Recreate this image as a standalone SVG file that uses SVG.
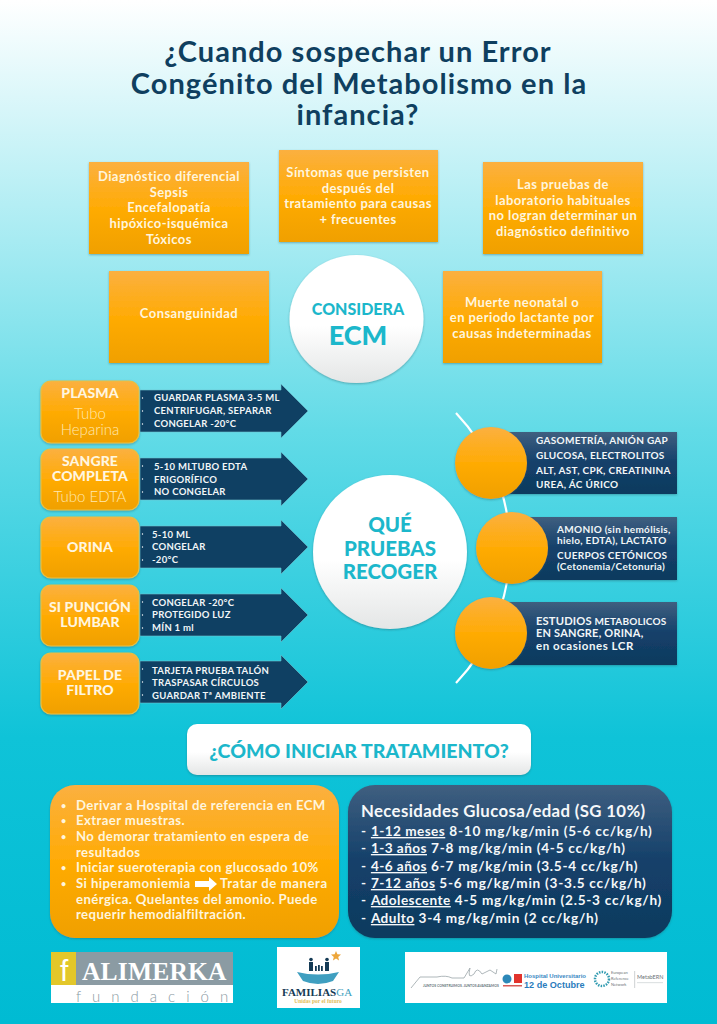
<svg xmlns="http://www.w3.org/2000/svg" width="717" height="1024" viewBox="0 0 717 1024">
<defs>
<linearGradient id="bg" x1="0" y1="0" x2="0" y2="1"><stop offset="0" stop-color="#ffffff"/><stop offset="0.2" stop-color="#b4eef4"/><stop offset="0.42" stop-color="#62dbe7"/><stop offset="0.72" stop-color="#0fc3d8"/><stop offset="1" stop-color="#00bbd3"/></linearGradient>
<linearGradient id="or" x1="0" y1="0" x2="0" y2="1"><stop offset="0" stop-color="#fbb040"/><stop offset="0.5" stop-color="#ffab05"/><stop offset="1" stop-color="#f0a000"/></linearGradient>
<linearGradient id="dk" x1="0" y1="0" x2="0" y2="1"><stop offset="0" stop-color="#3f5f80"/><stop offset="0.5" stop-color="#14406a"/><stop offset="1" stop-color="#0e3a5e"/></linearGradient>
<linearGradient id="wh" x1="0" y1="0" x2="0" y2="1"><stop offset="0" stop-color="#ffffff"/><stop offset="0.55" stop-color="#ffffff"/><stop offset="1" stop-color="#e4e6e6"/></linearGradient>
<filter id="sh" x="-10%" y="-10%" width="120%" height="125%"><feDropShadow dx="0" dy="1" stdDeviation="1.2" flood-color="#20606a" flood-opacity="0.45"/></filter>
<symbol id="arrow" overflow="visible"><path d="M140 -21H281V-27L308 0L281 27V21H140Z" fill="#0f4063" stroke="#6fc4d0" stroke-width="0.6"/></symbol>
</defs>
<style>
text{font-family:"Lato","Liberation Sans",sans-serif}
.t{font-size:29px;font-weight:700;fill:#0f3f5f;text-anchor:middle;letter-spacing:1.05px}
.b{font-size:13px;font-weight:700;fill:#fff5dd;text-anchor:middle;letter-spacing:.42px}
.l{font-size:14px;font-weight:900;fill:#fff6e0;text-anchor:middle;letter-spacing:.1px}
.lt{font-size:15px;font-weight:300;fill:#ffe8b0;text-anchor:middle}
.a{font-size:9.5px;font-weight:700;fill:#f2f6f8;letter-spacing:.3px}
.r{font-size:10px;font-weight:700;fill:#f2f6f8;letter-spacing:.3px}
.c{font-weight:900;fill:#1cb7cb;text-anchor:middle}
.p{font-size:13.2px;font-weight:700;fill:#fff5dd;letter-spacing:.38px}
.d{font-size:9px;font-weight:700;fill:#fff5dd}
.g{font-size:13.6px;font-weight:700;fill:#f5f8fa;letter-spacing:.75px}
.u{text-decoration:underline;letter-spacing:.45px}
.box{fill:url(#or);filter:url(#sh)}
.lb{fill:url(#or);stroke:#e8c040;stroke-width:1.2;filter:url(#sh)}
.dot{fill:#ffffff}
</style>
<rect id="background" width="717" height="1024" fill="url(#bg)"/>
<g id="title">
<text class="t" x="358" y="62">¿Cuando sospechar un Error</text>
<text class="t" x="359" y="94">Congénito del Metabolismo en la</text>
<text class="t" x="358" y="125">infancia?</text>
</g>
<g id="connectors">
<path d="M456 413A196 196 0 0 1 456 683" fill="none" stroke="#ffffff" stroke-width="2.2"/>
</g>
<g id="n-diagnostico"><rect class="box" x="89" y="162" width="160" height="92"/>
<text class="b" x="169" y="181">Diagnóstico diferencial</text><text class="b" x="169" y="197">Sepsis</text><text class="b" x="169" y="212">Encefalopatía</text><text class="b" x="169" y="228">hipóxico-isquémica</text><text class="b" x="169" y="244">Tóxicos</text></g>
<g id="n-sintomas"><rect class="box" x="279" y="150" width="159" height="92"/>
<text class="b" x="358" y="177">Síntomas que persisten</text><text class="b" x="358" y="193">después del</text><text class="b" x="358" y="208">tratamiento para causas</text><text class="b" x="358" y="224">+ frecuentes</text></g>
<g id="n-pruebas"><rect class="box" x="483" y="162" width="160" height="92"/>
<text class="b" x="563" y="189">Las pruebas de</text><text class="b" x="563" y="205">laboratorio habituales</text><text class="b" x="563" y="220">no logran determinar un</text><text class="b" x="563" y="236">diagnóstico definitivo</text></g>
<g id="n-consanguinidad"><rect class="box" x="109" y="271" width="160" height="92"/>
<text class="b" x="189" y="318">Consanguinidad</text></g>
<g id="n-muerte"><rect class="box" x="443" y="271" width="159" height="92"/>
<text class="b" x="522" y="307">Muerte neonatal o</text><text class="b" x="522" y="322">en periodo lactante por</text><text class="b" x="522" y="338">causas indeterminadas</text></g>
<g id="n-considera"><ellipse cx="356.500" cy="319" rx="67" ry="64" fill="url(#wh)" filter="url(#sh)"/>
<text class="c" x="358" y="315" font-size="16">CONSIDERA</text><text class="c" x="358" y="345" font-size="27">ECM</text></g>

<g id="n-plasma"><rect class="lb" x="41" y="381" width="98" height="62" rx="10"/>
<text class="l" x="90" y="398">PLASMA</text><text class="lt" x="90" y="419">Tubo</text><text class="lt" x="90" y="435">Heparina</text></g>
<g id="n-plasma-info"><use href="#arrow" y="411"/>
<circle class="dot" cx="142.500" cy="398" r=".7"/><circle class="dot" cx="142.500" cy="411" r=".7"/><circle class="dot" cx="142.500" cy="424" r=".7"/>
<text class="a" x="154" y="401">GUARDAR PLASMA 3-5 ML</text><text class="a" x="154" y="414">CENTRIFUGAR, SEPARAR</text><text class="a" x="154" y="427">CONGELAR -20°C</text></g>
<g id="n-sangre"><rect class="lb" x="41" y="449" width="98" height="61" rx="10"/>
<text class="l" x="90" y="466">SANGRE</text><text class="l" x="90" y="481">COMPLETA</text><text class="lt" x="90" y="502">Tubo EDTA</text></g>
<g id="n-sangre-info"><use href="#arrow" y="479"/>
<circle class="dot" cx="142.500" cy="466" r=".7"/><circle class="dot" cx="142.500" cy="479" r=".7"/><circle class="dot" cx="142.500" cy="492" r=".7"/>
<text class="a" x="154" y="470">5-10 MLTUBO EDTA</text><text class="a" x="154" y="483">FRIGORÍFICO</text><text class="a" x="154" y="495">NO CONGELAR</text></g>
<g id="n-orina"><rect class="lb" x="41" y="517" width="98" height="61" rx="10"/>
<text class="l" x="90" y="552">ORINA</text></g>
<g id="n-orina-info"><use href="#arrow" y="547"/>
<circle class="dot" cx="142.500" cy="534" r=".7"/><circle class="dot" cx="142.500" cy="547" r=".7"/><circle class="dot" cx="142.500" cy="560" r=".7"/>
<text class="a" x="152" y="538">5-10 ML</text><text class="a" x="152" y="550">CONGELAR</text><text class="a" x="152" y="563">-20°C</text></g>
<g id="n-puncion"><rect class="lb" x="41" y="585" width="98" height="61" rx="10"/>
<text class="l" x="90" y="612">SI PUNCIÓN</text><text class="l" x="90" y="627">LUMBAR</text></g>
<g id="n-puncion-info"><use href="#arrow" y="615"/>
<circle class="dot" cx="142.500" cy="602" r=".7"/><circle class="dot" cx="142.500" cy="615" r=".7"/><circle class="dot" cx="142.500" cy="628" r=".7"/>
<text class="a" x="152" y="606">CONGELAR -20°C</text><text class="a" x="152" y="618">PROTEGIDO LUZ</text><text class="a" x="152" y="631">MÍN 1 ml</text></g>
<g id="n-papel"><rect class="lb" x="41" y="653" width="98" height="61" rx="10"/>
<text class="l" x="90" y="680">PAPEL DE</text><text class="l" x="90" y="695">FILTRO</text></g>
<g id="n-papel-info"><use href="#arrow" y="682"/>
<circle class="dot" cx="142.500" cy="669" r=".7"/><circle class="dot" cx="142.500" cy="682" r=".7"/><circle class="dot" cx="142.500" cy="695" r=".7"/>
<text class="a" x="152" y="674">TARJETA PRUEBA TALÓN</text><text class="a" x="152" y="686">TRASPASAR CÍRCULOS</text><text class="a" x="152" y="699">GUARDAR  Tª AMBIENTE</text></g>

<g id="n-que"><circle cx="390" cy="552" r="77" fill="url(#wh)" filter="url(#sh)"/>
<text class="c" x="390" y="532" font-size="20.500">QUÉ</text><text class="c" x="390" y="556" font-size="20.500">PRUEBAS</text><text class="c" x="390" y="579" font-size="20.500">RECOGER</text></g>
<g id="n-gasometria"><rect x="491" y="432" width="186" height="62" fill="url(#dk)" filter="url(#sh)"/><circle cx="491" cy="463" r="36" fill="url(#or)" filter="url(#sh)"/>
<text class="r" x="536" y="444">GASOMETRÍA, ANIÓN GAP</text><text class="r" x="536" y="459">GLUCOSA, ELECTROLITOS</text><text class="r" x="536" y="474">ALT, AST, CPK, CREATININA</text><text class="r" x="536" y="488">UREA, ÁC ÚRICO</text></g>
<g id="n-amonio"><rect x="512" y="517" width="165" height="63" fill="url(#dk)" filter="url(#sh)"/><circle cx="512" cy="548" r="36" fill="url(#or)" filter="url(#sh)"/>
<text class="r" x="557" y="533">AMONIO (sin hemólisis,</text><text class="r" x="557" y="544">hielo, EDTA), LACTATO</text><text class="r" x="557" y="559">CUERPOS CETÓNICOS</text><text class="r" x="557" y="570">(Cetonemia/Cetonuria)</text></g>
<g id="n-estudios"><rect x="491" y="602" width="186" height="63" fill="url(#dk)" filter="url(#sh)"/><circle cx="491" cy="633" r="36" fill="url(#or)" filter="url(#sh)"/>
<text class="r" x="536" y="625" style="letter-spacing:.15px"><tspan font-size="11.200">ESTUDIOS</tspan> METABOLICOS</text><text class="r" x="536" y="637" style="font-size:11px;letter-spacing:.2px">EN SANGRE, ORINA,</text><text class="r" x="536" y="650" style="font-size:11.500px;letter-spacing:.55px">en ocasiones LCR</text></g>

<g id="n-como"><rect x="187" y="724" width="344" height="51" rx="10" fill="url(#wh)" filter="url(#sh)"/>
<text class="c" x="359" y="758" font-size="19.500">¿CÓMO INICIAR TRATAMIENTO?</text></g>
<g id="n-derivar"><rect x="50" y="785" width="289" height="153" rx="25" fill="url(#or)" filter="url(#sh)"/>
<text class="d" x="61" y="809">•</text><text class="p" x="76" y="810">Derivar a Hospital de referencia en ECM</text>
<text class="d" x="61" y="824">•</text><text class="p" x="76" y="825">Extraer muestras.</text>
<text class="d" x="61" y="840">•</text><text class="p" x="76" y="841">No demorar tratamiento en espera de</text>
<text class="p" x="76" y="857">resultados</text>
<text class="d" x="61" y="871">•</text><text class="p" x="76" y="872">Iniciar sueroterapia con glucosado 10%</text>
<text class="d" x="61" y="887">•</text><text class="p" x="76" y="888">Si hiperamoniemia</text><text class="p" x="220" y="888" style="letter-spacing:.55px">Tratar de manera</text>
<text class="p" x="76" y="904">enérgica. Quelantes del amonio. Puede</text>
<text class="p" x="76" y="919">requerir hemodialfiltración.</text>
<path d="M195 881H209V877L217 884L209 891V887H195Z" fill="#ffffff"/></g>
<g id="n-glucosa"><rect x="348" y="785" width="324" height="153" rx="27" fill="url(#dk)" filter="url(#sh)"/>
<text x="361" y="817" font-size="16.800" font-weight="700" fill="#f5f8fa" letter-spacing=".35">Necesidades Glucosa/edad (SG 10%)</text>
<text class="g" x="361" y="836">- <tspan class="u">1-12 meses</tspan> 8-10 mg/kg/min (5-6 cc/kg/h)</text>
<text class="g" x="361" y="853">- <tspan class="u">1-3 años</tspan> 7-8 mg/kg/min (4-5 cc/kg/h)</text>
<text class="g" x="361" y="871">- <tspan class="u">4-6 años</tspan> 6-7 mg/kg/min (3.5-4 cc/kg/h)</text>
<text class="g" x="361" y="888">- <tspan class="u">7-12 años</tspan> 5-6 mg/kg/min (3-3.5 cc/kg/h)</text>
<text class="g" x="361" y="905">- <tspan class="u">Adolescente</tspan> 4-5 mg/kg/min (2.5-3 cc/kg/h)</text>
<text class="g" x="361" y="923">- <tspan class="u">Adulto</tspan> 3-4 mg/kg/min (2 cc/kg/h)</text></g>

<g id="logo-alimerka"><rect x="51" y="952" width="182" height="51" fill="#ffffff"/><rect x="51" y="952" width="25" height="33" fill="#e3c72a"/><rect x="76" y="952" width="157" height="33" fill="#8b9ba3"/>
<text x="60" y="981" font-size="30" fill="#ffffff" style="font-family:'Liberation Sans',sans-serif;font-weight:300">f</text>
<text x="82" y="980" font-size="25.500" font-weight="700" fill="#ffffff" letter-spacing=".2" style="font-family:'Liberation Serif',serif">ALIMERKA</text>
<text x="76" y="1002" font-size="15" font-weight="300" fill="#8b9ba3" letter-spacing="11">fundación</text></g>
<g id="logo-familias"><rect x="277" y="947" width="83" height="61" fill="#ffffff"/>
<path d="M336 951L337.400 954.300L341 954.600L338.200 956.900L339.100 960.400L336 958.500L332.900 960.400L333.800 956.900L331 954.600L334.600 954.300Z" fill="#eda63a"/>
<path d="M297 972Q318 977 339 972L333 981Q318 987 303 981Z" fill="#3f9fc0"/>
<g fill="#143a55"><circle cx="311" cy="959.500" r="1.800"/><rect x="309" y="962" width="4" height="9"/><circle cx="327" cy="959.500" r="1.800"/><rect x="325" y="962" width="4" height="9"/><rect x="315" y="966" width="1.800" height="5"/><rect x="318" y="965" width="1.800" height="6"/><rect x="321" y="966" width="1.800" height="5"/></g>
<text x="282" y="996" font-size="11" font-weight="700" fill="#153a55" style="font-family:'Liberation Serif',serif">FAMILIAS<tspan fill="#3f9fc0" font-weight="400">GA</tspan></text>
<text x="318" y="1003" font-size="5.500" font-weight="700" fill="#e2bd5a" text-anchor="middle" style="font-family:'Liberation Serif',serif">Unidas por el futuro</text></g>
<g id="logo-hospitales"><rect x="405" y="952" width="262" height="51" fill="#ffffff"/>
<path d="M411 988L420 977H437Q446 975 452 978L464 978L470 968Q467 980 474 974Q477 966 482 974L490 970L496 974L497 969" fill="none" stroke="#9aa5a8" stroke-width="0.8"/>
<text x="423" y="987" font-size="3.400" font-weight="700" fill="#66757a">JUNTOS CONSTRUIMOS. JUNTOS AVANZAMOS</text>
<circle cx="507" cy="979" r="4.500" fill="#2c88b8"/><rect x="514" y="974" width="8" height="9" fill="#e2342d"/><rect x="503" y="985" width="19" height="1.500" fill="#d75c57"/>
<text x="524" y="978" font-size="6" font-weight="700" fill="#3a89c4" style="font-family:'Liberation Sans',sans-serif">Hospital Universitario</text>
<text x="524" y="988" font-size="9.100" font-weight="700" fill="#2a7cbd" style="font-family:'Liberation Sans',sans-serif">12 de Octubre</text>
<circle cx="602" cy="979" r="7" fill="none" stroke="#2f9ab0" stroke-width="2.500" stroke-dasharray="1.500 1.200"/>
<g font-size="4" fill="#6d7478" style="font-family:'Liberation Serif',serif"><text x="611" y="974">European</text><text x="611" y="980">Reference</text><text x="611" y="986">Network</text></g>
<rect x="634.500" y="971" width=".6" height="17" fill="#aeb4b6"/>
<text x="637" y="979" font-size="5.500" fill="#6d7478">MetabERN</text><rect x="637" y="982" width="26" height="1.200" fill="#dfe3e4"/></g>
</svg>
